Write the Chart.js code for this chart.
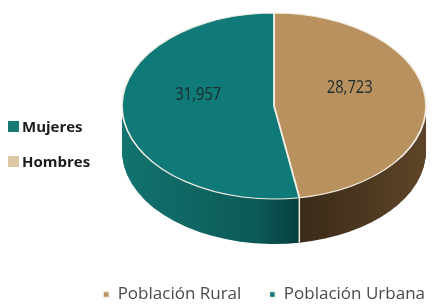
<!DOCTYPE html>
<html>
<head>
<meta charset="utf-8">
<script src="https://cdn.jsdelivr.net/npm/chart.js@4.4.1/dist/chart.umd.min.js"></script>
<style>
  html, body { margin: 0; padding: 0; background: #fff; overflow: hidden; }
  #wrap { position: relative; width: 433px; height: 304px; overflow: hidden; }
  #c { position: absolute; left: 0; top: 0; }
  #side { position: absolute; left: 8px; top: 116px; font: bold 15px "Open Sans", sans-serif; color: #1b1b1b; }
  .it { display: flex; align-items: center; height: 20px; margin-bottom: 15px; }
  .sw { width: 11px; height: 11px; margin-right: 3px; }
</style>
</head>
<body>
<div id="wrap">
  <canvas id="c" width="453" height="304"></canvas>
  <div id="side"></div>
</div>
<script>
// datos
const labels = ['Población Rural', 'Población Urbana'];
const values = [28723, 31957];
const valueText = ['28,723', '31,957'];
const topColors = ['#b8915f', '#0f7a77'];
const sideLabels = ['Mujeres', 'Hombres'];
const sideColors = ['#177a72', '#dcc7a5'];

// leyenda lateral
const side = document.getElementById('side');
sideLabels.forEach((l, i) => {
  side.insertAdjacentHTML('beforeend',
    '<div class="it"><span class="sw" style="background:' + sideColors[i] + '"></span>' + l + '</div>');
});

// elipse del pastel 3D (posición en pantalla)
const E = { cx: 274, cy: 106, rx: 152, ry: 93, depth: 45, lift: 15 };

function toEllipse(ctx, arc, dy) {
  ctx.translate(E.cx, E.cy + dy);
  ctx.scale(E.rx / arc.outerRadius, E.ry / arc.outerRadius);
  ctx.translate(-arc.x, -arc.y);
}

function sideFill(ctx, i) {
  const g = ctx.createLinearGradient(E.cx - E.rx, 0, E.cx + E.rx, 0);
  if (i === 1) {
    g.addColorStop(0, '#12736f');
    g.addColorStop(0.45, '#0b5957');
    g.addColorStop(0.6, '#053b3a');
    g.addColorStop(1, '#053b3a');
  } else {
    g.addColorStop(0, '#3b2b18');
    g.addColorStop(0.6, '#3b2b18');
    g.addColorStop(1, '#5e4529');
  }
  return g;
}

const pie3d = {
  id: 'pie3d',
  beforeDatasetsDraw(chart) {
    const ctx = chart.ctx;
    const arcs = chart.getDatasetMeta(0).data;
    // costado
    for (let d = E.depth; d >= 1; d--) {
      arcs.forEach((arc, i) => {
        ctx.save();
        toEllipse(ctx, arc, d);
        ctx.beginPath();
        ctx.moveTo(arc.x, arc.y);
        ctx.arc(arc.x, arc.y, arc.outerRadius, arc.startAngle, arc.endAngle);
        ctx.closePath();
        ctx.restore();
        ctx.fillStyle = sideFill(ctx, i);
        ctx.fill();
      });
    }
    // línea de separación del costado
    const a = arcs[0];
    ctx.save();
    toEllipse(ctx, a, 0);
    const px = a.x + a.outerRadius * Math.cos(a.endAngle);
    const py = a.y + a.outerRadius * Math.sin(a.endAngle);
    const m = ctx.getTransform().transformPoint({ x: px, y: py });
    ctx.restore();
    ctx.save();
    ctx.strokeStyle = '#f3eee4';
    ctx.lineWidth = 1.5;
    ctx.beginPath();
    ctx.moveTo(m.x, m.y);
    ctx.lineTo(m.x, m.y + E.depth);
    ctx.stroke();
    ctx.restore();
    // cara superior
    ctx.save();
    toEllipse(ctx, a, 0);
  },
  afterDatasetsDraw(chart) {
    const ctx = chart.ctx;
    ctx.restore();
    const arcs = chart.getDatasetMeta(0).data;
    ctx.save();
    ctx.font = '19px "Open Sans", sans-serif';
    ctx.fillStyle = '#1c2a2a';
    ctx.textAlign = 'center';
    ctx.textBaseline = 'middle';
    arcs.forEach((arc, i) => {
      const p = arc.tooltipPosition();
      const x = E.cx + (p.x - arc.x) * E.rx / arc.outerRadius;
      const y = E.cy + (p.y - arc.y) * E.ry / arc.outerRadius - E.lift;
      ctx.fillText(valueText[i], x, y, 46);
    });
    ctx.restore();
  }
};

new Chart(document.getElementById('c'), {
  type: 'pie',
  data: {
    labels,
    datasets: [{
      data: values,
      backgroundColor: topColors,
      borderColor: '#f3eee4',
      borderWidth: 1.5
    }]
  },
  options: {
    responsive: false,
    animation: false,
    events: [],
    layout: { padding: { left: 0, right: 0, top: 0, bottom: -9 } },
    plugins: {
      legend: {
        position: 'bottom',
        align: 'end',
        labels: {
          usePointStyle: true, pointStyle: 'rect', boxWidth: 6, boxHeight: 6,
          padding: 28, color: '#4a4a4a',
          font: { family: '"Open Sans", sans-serif', size: 17 }
        }
      },
      tooltip: { enabled: false }
    }
  },
  plugins: [pie3d]
});
</script>
</body>
</html>
